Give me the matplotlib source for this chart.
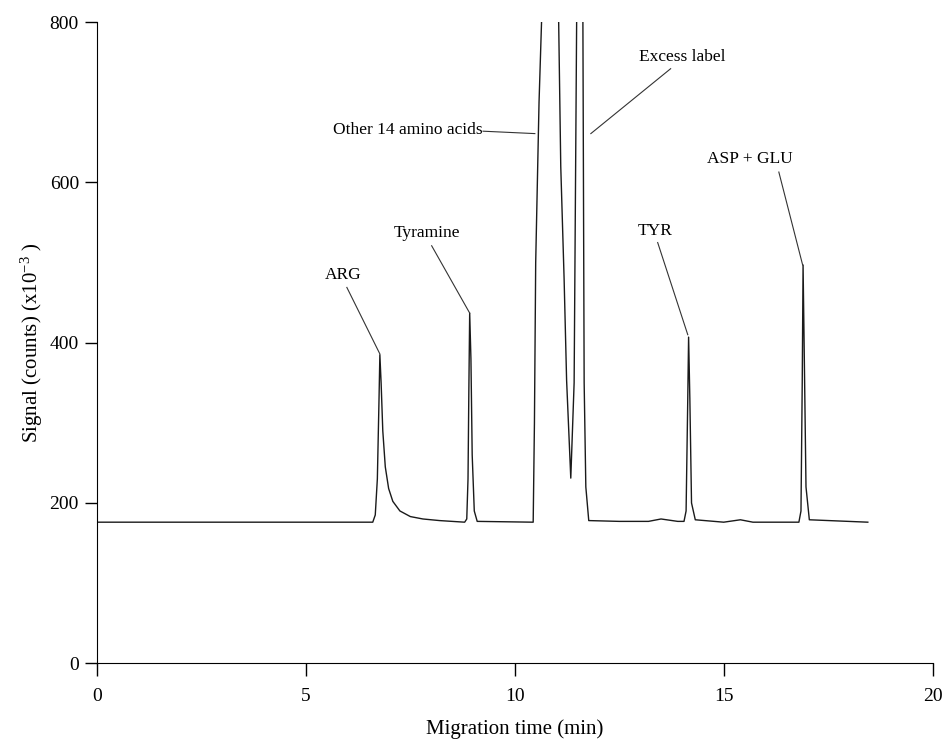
import matplotlib
matplotlib.use('Agg')
import matplotlib.pyplot as plt

# electropherogram trace (time in min, signal x10^-3 counts)
time = [0.0, 6.60, 6.66, 6.71, 6.75, 6.77, 6.80, 6.84, 6.90, 6.98, 7.08, 7.25, 7.50, 7.80, 8.20,
        8.80, 8.85, 8.88, 8.90, 8.92, 8.95, 8.98, 9.03, 9.10,
        10.44, 10.47, 10.50, 10.58, 10.67, 10.80, 10.98, 11.05, 11.10, 11.18, 11.24, 11.34,
        11.42, 11.48, 11.56, 11.63, 11.66, 11.70, 11.77,
        12.50, 13.20, 13.50, 13.90, 14.05, 14.10, 14.14, 14.16, 14.19, 14.23, 14.32,
        15.00, 15.40, 15.70, 16.80, 16.85, 16.88, 16.90, 16.93, 16.97, 17.05, 18.45]
signal = [176, 176, 185, 230, 330, 385, 350, 290, 245, 218, 202, 190, 183, 180, 178,
          176, 180, 230, 340, 437, 380, 260, 190, 177,
          176, 300, 500, 700, 850, 1500, 900, 800, 620, 480, 353, 231,
          350, 800, 1300, 800, 350, 220, 178,
          177, 177, 180, 177, 177, 190, 330, 407, 330, 200, 179,
          176, 179, 176, 176, 190, 350, 497, 380, 220, 179, 176]

# annotations: label, text position, leader start, leader end
labels = ['ARG', 'Tyramine', 'TYR', 'ASP + GLU', 'Excess label']
text_xy = [(5.90, 484), (7.89, 537), (13.35, 540), (15.62, 629), (14.02, 756)]
leader_from = [(5.98, 469), (8.01, 521), (13.42, 525), (16.32, 613), (13.73, 742)]
leader_to = [(6.77, 386), (8.92, 437), (14.14, 410), (16.89, 497), (11.82, 661)]

plt.rcParams['font.family'] = ['Liberation Serif', 'DejaVu Serif']
plt.rcParams['mathtext.fontset'] = 'stix'

fig = plt.figure(figsize=(9.42, 7.41), dpi=100)
ax = fig.add_axes([0.103, 0.105, 0.887, 0.865])

ax.plot(time, signal, color='#1a1a1a', lw=1.0)

for lab, txy, p0, p1 in zip(labels, text_xy, leader_from, leader_to):
    ax.text(txy[0], txy[1], lab, ha='center', va='center', fontsize=12.5)
    ax.plot([p0[0], p1[0]], [p0[1], p1[1]], color='#333333', lw=0.8)

# "Other 14 amino acids" with horizontal leader
ax.text(9.22, 665, 'Other 14 amino acids', ha='right', va='center', fontsize=12.5)
ax.plot([9.24, 10.48], [664, 661], color='#333333', lw=0.8)

ax.set_xlim(0, 20)
ax.set_ylim(0, 800)
ax.set_xticks([0, 5, 10, 15, 20])
ax.set_yticks([0, 200, 400, 600, 800])
ax.spines['top'].set_visible(False)
ax.spines['right'].set_visible(False)
ax.tick_params(direction='out', length=9, width=1, labelsize=14)
ax.tick_params(axis='x', pad=9)
ax.tick_params(axis='y', pad=4)
ax.set_xlabel('Migration time (min)', fontsize=15, labelpad=10)
ax.set_ylabel(r'Signal (counts) (x10$^{\mathregular{-3}}$ )', fontsize=15)
ax.yaxis.set_label_coords(-0.062, 0.5)

fig.savefig('out.png', dpi=100)
